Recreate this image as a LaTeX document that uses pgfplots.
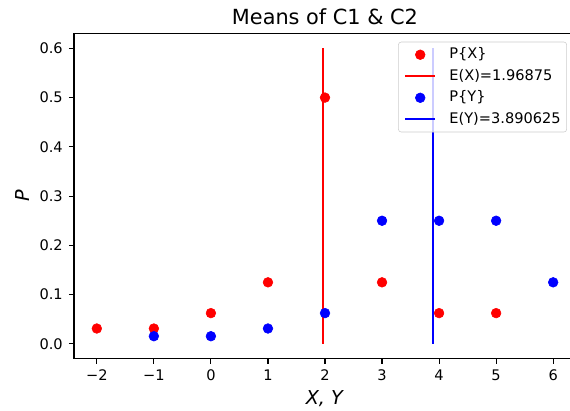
\documentclass[border=0pt]{standalone}
\usepackage{fontspec}
\setmainfont{DejaVu Sans}
\usepackage{pgfplots}
\pgfplotsset{compat=1.18}

\begin{document}
\begin{tikzpicture}
% one pixel of the reference is 0.72pt; the right spine lies outside the crop
\useasboundingbox (0,0) rectangle (410.4pt,295.92pt);
\begin{axis}[
    at={(53.28pt,37.66pt)}, anchor=south west,
    scale only axis, width=361.44pt, height=234.1pt,
    xmin=-2.4, xmax=6.4, ymin=-0.03, ymax=0.63,
    xtick={-2,-1,0,1,2,3,4,5,6},
    xticklabels={−2,−1,0,1,2,3,4,5,6},
    ytick={0,0.1,0.2,0.3,0.4,0.5,0.6},
    yticklabels={0.0,0.1,0.2,0.3,0.4,0.5,0.6},
    xtick pos=lower, ytick pos=left,
    tick align=outside, major tick length=3.6pt,
    tick style={black, line width=0.8pt},
    axis line style={black, line width=0.8pt},
    ticklabel style={font=\fontsize{10.5}{12}\selectfont, inner sep=0pt},
    xticklabel style={anchor=north, yshift=-4.4pt},
    yticklabel style={anchor=east, xshift=-4.3pt},
    title={Means of C1 \& C2},
    title style={font=\fontsize{15}{18}\selectfont, at={(axis description cs:0.5,1)},
                 anchor=base, yshift=0.8pt, inner sep=0pt},
    xlabel={\textit{X, Y}},
    xlabel style={font=\fontsize{13.8}{16}\selectfont, inner sep=0pt,
                  at={([yshift=-33.3pt]axis description cs:0.5,0)}, anchor=base},
    ylabel={\textit{P}},
    ylabel style={font=\fontsize{13.8}{16}\selectfont, inner sep=0pt,
                  at={([xshift=-37.4pt]axis description cs:0,0.5)}, anchor=center},
    legend cell align=left,
    legend style={at={(axis description cs:1,1)}, anchor=north east,
                  xshift=-6.5pt, yshift=-5.9pt,
                  draw=black!20, rounded corners=2pt,
                  fill=white, fill opacity=0.8, text opacity=1,
                  font=\fontsize{10.5}{12}\selectfont,
                  inner xsep=4.3pt, inner ysep=3.9pt,
                  row sep=5pt, column sep=9.6pt,
                  nodes={inner sep=0pt, text height=8pt, text depth=2.5pt}},
]
\pgfplotsset{
    dotlegend/.style={legend image code/.code={
        \path[draw=none] (0pt,0pt) -- (21.6pt,0pt);
        \draw[##1, fill opacity=1, draw opacity=1] plot coordinates {(10.8pt,0pt)};}},
    linelegend/.style={legend image code/.code={
        \draw[##1, draw opacity=1] (0pt,0pt) -- (21.6pt,0pt);}},
}
\addplot[only marks, mark=*, mark size=3.5pt, red, mark options={fill=red, draw=red},
         dotlegend] coordinates {
(-2,0.03125) (-1,0.03125) (0,0.0625) (1,0.125) (2,0.5) (3,0.125) (4,0.0625) (5,0.0625)};
\addlegendentry{P\{X\}}
\addplot[red, line width=1.2pt, no marks, linelegend] coordinates {
(1.96875,0) (1.96875,0.6)};
\addlegendentry{E(X)=1.96875}
\addplot[only marks, mark=*, mark size=3.5pt, blue, mark options={fill=blue, draw=blue},
         dotlegend] coordinates {
(-1,0.015625) (0,0.015625) (1,0.03125) (2,0.0625) (3,0.25) (4,0.25) (5,0.25) (6,0.125)};
\addlegendentry{P\{Y\}}
\addplot[blue, line width=1.2pt, no marks, linelegend] coordinates {
(3.890625,0) (3.890625,0.6)};
\addlegendentry{E(Y)=3.890625}
\end{axis}
\end{tikzpicture}
\end{document}
